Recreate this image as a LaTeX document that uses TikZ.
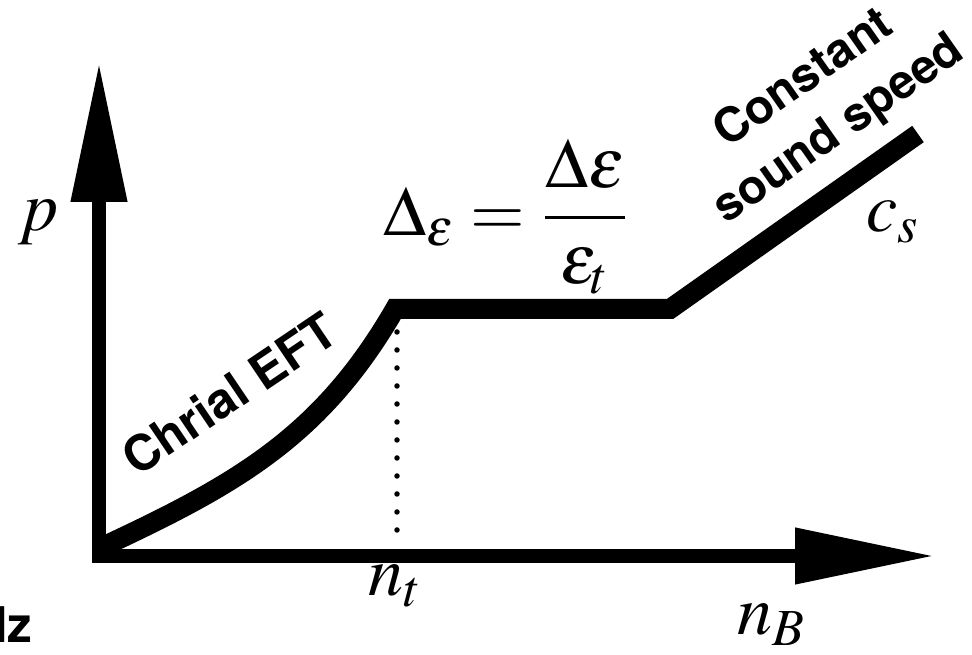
\documentclass[tikz,border=0pt]{standalone}
\usepackage{amsmath}
\usepackage{mathptmx}
\usepackage[no-math]{fontspec}
\setsansfont{TeX Gyre Heros}
\usetikzlibrary{arrows.meta}

\begin{document}
\begin{tikzpicture}[
        axis/.style={line width=0.14cm, line join=miter,
            {Triangle[length=1.4cm,width=0.53cm]}-{Triangle[length=1.4cm,width=0.53cm]}},
        eos/.style={line width=0.2cm, line join=miter},
        guide/.style={line width=0.055cm, line cap=round, dash pattern=on 0pt off 0.18cm},
        mathlabel/.style={font=\fontsize{20}{24}\selectfont},
        bandtext/.style={font=\sffamily\bfseries\fontsize{14}{18.5}\selectfont, align=center}
    ]
        \useasboundingbox (0,0) rectangle (9.72,6.55);

        \coordinate (O) at (0.99,0.99);
        \coordinate (ytip) at (0.99,5.93);
        \coordinate (xtip) at (9.35,0.99);
        \coordinate (start) at (1.00,1.07);
        \coordinate (kink) at (3.95,3.46);
        \coordinate (knee) at (6.70,3.46);
        \coordinate (stop) at (9.18,5.21);
        \coordinate (dtop) at (3.97,3.23);
        \coordinate (dbot) at (3.97,1.25);

        \draw[axis] (ytip) -- (O) -- (xtip);
        \draw[eos] (start) to[out=25,in=240] (kink) -- (knee) -- (stop);
        \draw[guide] (dtop) -- (dbot);

        \node[mathlabel] (p) at (0.38,4.33) {$p$};
        \node[mathlabel] (nt) at (3.95,0.69) {$n_t$};
        \node[mathlabel] (nB) at (7.72,0.30) {$n_B$};
        \node[mathlabel] (cs) at (8.93,4.33) {$c_s$};
        \node[mathlabel] (jump) at (5.06,4.38) {$\Delta_{\varepsilon} = \dfrac{\Delta\varepsilon}{\varepsilon_t}$};

        \node[bandtext, rotate=34] (chiral) at (2.29,2.61) {Chrial EFT};
        \node[bandtext, rotate=35, font=\sffamily\bfseries\fontsize{13.5}{17.5}\selectfont] (const) at (8.22,5.50) {Constant\\sound speed};
        \node[bandtext, anchor=base east, inner sep=0pt] (cut) at (0.33,0.12) {lz};
    \end{tikzpicture}
\end{document}
